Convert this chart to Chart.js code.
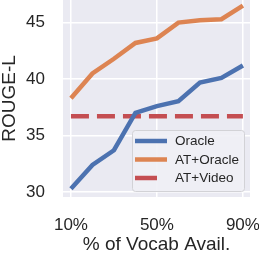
<!DOCTYPE html>
<html>
<head>
<meta charset="utf-8">
<script src="https://cdn.jsdelivr.net/npm/chart.js@4"></script>
<style>
  body { margin: 0; background: #fff; }
  #wrap { width: 259px; height: 254px; }
</style>
</head>
<body>
<div id="wrap"><canvas id="chart"></canvas></div>
<script>
// data
const vocab = [10, 20, 30, 40, 50, 60, 70, 80, 90];
const oracle = [30.3, 32.4, 33.7, 37.0, 37.6, 38.05, 39.7, 40.1, 41.2];
const atOracle = [38.3, 40.5, 41.8, 43.2, 43.6, 45.0, 45.2, 45.3, 46.5];
const atVideo = 36.7;
const xTicks = [10, 50, 90];
const yTicks = [30, 35, 40, 45];

const font = '"Liberation Sans", Arial, sans-serif';

// legend drawn inside the plot, like matplotlib's
const innerLegend = {
    id: 'innerLegend',
    afterDraw(chart) {
        const ctx = chart.ctx;
        const x0 = 132, y0 = 130, w = 112, h = 61;
        ctx.save();
        ctx.beginPath();
        ctx.roundRect(x0 + 0.5, y0 + 0.5, w, h, 3);
        ctx.fillStyle = 'rgba(240,240,245,0.9)';
        ctx.fill();
        ctx.strokeStyle = '#d2d2d6';
        ctx.lineWidth = 1;
        ctx.stroke();
        chart.data.datasets.forEach((ds, i) => {
            const y = y0 + 11 + i * 18.5;
            ctx.beginPath();
            ctx.strokeStyle = ds.borderColor;
            ctx.lineWidth = ds.borderWidth;
            ctx.moveTo(135, y);
            ctx.lineTo(ds.borderDash ? 157 : 167, y);
            ctx.stroke();
            ctx.fillStyle = '#262626';
            ctx.font = '13.5px ' + font;
            ctx.textBaseline = 'middle';
            ctx.fillText(ds.label, 175, y + 0.5);
        });
        ctx.restore();
    }
};

const plotBg = {
    id: 'plotBg',
    beforeDraw(chart) {
        const a = chart.chartArea;
        chart.ctx.save();
        chart.ctx.fillStyle = '#EAEAF2';
        chart.ctx.fillRect(a.left, a.top, a.right - a.left, a.bottom - a.top);
        chart.ctx.restore();
    }
};

function noPad(axis) {
    axis.paddingLeft = 0;
    axis.paddingRight = 0;
    axis.paddingTop = 0;
    axis.paddingBottom = 0;
}

new Chart(document.getElementById('chart'), {
    type: 'line',
    data: {
        datasets: [
            {
                label: 'Oracle',
                data: vocab.map((v, i) => ({ x: v, y: oracle[i] })),
                borderColor: '#4C72B0',
                borderWidth: 4.5,
                pointRadius: 0
            },
            {
                label: 'AT+Oracle',
                data: vocab.map((v, i) => ({ x: v, y: atOracle[i] })),
                borderColor: '#DD8452',
                borderWidth: 4.5,
                pointRadius: 0
            },
            {
                label: 'AT+Video',
                data: [{ x: vocab[0], y: atVideo }, { x: vocab[vocab.length - 1], y: atVideo }],
                borderColor: '#C44E52',
                borderWidth: 4.5,
                borderDash: [18, 8],
                pointRadius: 0
            }
        ]
    },
    options: {
        responsive: true,
        maintainAspectRatio: false,
        animation: false,
        layout: { padding: { left: 0, right: 9, top: 0, bottom: 0 } },
        plugins: {
            legend: { display: false },
            tooltip: { enabled: false }
        },
        scales: {
            x: {
                type: 'linear',
                min: 6.3,
                max: 93.3,
                afterBuildTicks: axis => { axis.ticks = xTicks.map(v => ({ value: v })); },
                afterFit: axis => { axis.height = 57; noPad(axis); },
                grid: { color: '#ffffff', lineWidth: 1.5, drawTicks: false },
                border: { display: false },
                ticks: {
                    padding: 18,
                    color: '#262626',
                    font: { family: font, size: 17 },
                    callback: v => v + '%',
                    maxRotation: 0
                },
                title: {
                    display: true,
                    text: '% of Vocab Avail.',
                    color: '#262626',
                    font: { family: font, size: 19, lineHeight: 1 },
                    padding: { top: 0, bottom: 0 }
                }
            },
            y: {
                min: 29.56,
                max: 47.0,
                afterBuildTicks: axis => { axis.ticks = yTicks.map(v => ({ value: v })); },
                afterFit: axis => { axis.width = 63; noPad(axis); },
                grid: { color: '#ffffff', lineWidth: 1.5, drawTicks: false },
                border: { display: false },
                ticks: {
                    padding: 18,
                    color: '#262626',
                    font: { family: font, size: 17 }
                },
                title: {
                    display: true,
                    text: 'ROUGE-L',
                    color: '#262626',
                    font: { family: font, size: 19, lineHeight: 1 },
                    padding: { top: 0, bottom: 0 }
                }
            }
        }
    },
    plugins: [plotBg, innerLegend]
});
</script>
</body>
</html>
